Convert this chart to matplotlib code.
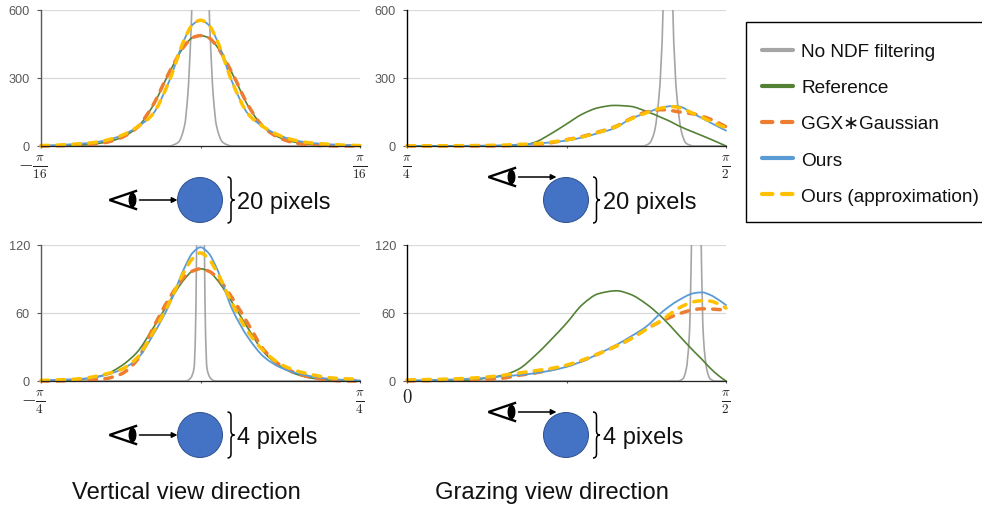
import matplotlib
matplotlib.use("Agg")
import matplotlib.pyplot as plt
import numpy as np
from matplotlib.lines import Line2D
from matplotlib.patches import Rectangle, Ellipse, PathPatch
from matplotlib.path import Path
from matplotlib.transforms import ScaledTranslation

plt.rcParams['font.family'] = ['Liberation Sans', 'DejaVu Sans']
plt.rcParams['mathtext.fontset'] = 'cm'

W, H = 982, 510
SERIES = ["No NDF filtering", "Reference", "GGX\u2217Gaussian", "Ours", "Ours (approximation)"]
COLORS = ["#A5A5A5", "#548235", "#ED7D31", "#5B9BD5", "#FFC000"]

# --- top-left: vertical view, 20 pixels
tl_x = [0, .05, .1, .15, .2, .25, .3, .35, .4, .45, .475, .5, .525, .55, .6, .65, .7, .75, .8, .85, .9, .95, 1]
tl_ref = [0, 1, 3, 7, 16, 36, 80, 175, 318, 442, 478, 487, 478, 442, 318, 175, 80, 36, 16, 7, 3, 1, 0]
tl_ggx = [0, 1, 3, 7, 15, 36, 80, 178, 320, 442, 478, 487, 478, 442, 320, 178, 80, 34, 12, 4, 1, 0, 0]
tl_ours = [2, 4, 8, 13, 24, 45, 82, 140, 280, 472, 535, 555, 535, 472, 280, 140, 82, 45, 24, 13, 8, 4, 2]
tl_appr = [2, 4, 8, 13, 24, 45, 82, 140, 280, 472, 535, 555, 535, 472, 280, 140, 82, 45, 24, 13, 8, 4, 2]
tl_sx = [0, .4, .43, .45, .46, .47, .473, .485, .5, .515, .527, .53, .54, .55, .57, .6, 1]
tl_sv = [0, 0, 16, 90, 222, 500, 620, 2000, 3500, 2000, 620, 500, 222, 90, 16, 0, 0]

# --- top-right: grazing view, 20 pixels
tr_x = [0, .1, .2, .3, .35, .4, .45, .5, .55, .6, .65, .7, .75, .8, .83, .85, .9, .95, 1]
tr_ref = [0, 0, 0, 0, 1, 16, 53, 97, 141, 169, 179, 175, 153, 124, 105, 90, 60, 31, 0]
tr_ggx = [0, 0, 0, 1, 3, 6, 14, 28, 42, 62, 84, 120, 150, 160, 156, 151, 141, 119, 85]
tr_ours = [0, 0, 1, 3, 6, 10, 16, 24, 38, 57, 78, 119, 146, 170, 176, 175, 141, 104, 68]
tr_appr = [1, 1, 2, 4, 7, 10, 17, 27, 40, 60, 82, 118, 146, 168, 174, 170, 142, 110, 80]
tr_sx = [0, .74, .76, .775, .79, .803, .81, .818, .826, .833, .846, .861, .875, .9, 1]
tr_sv = [0, 0, 12, 60, 220, 620, 1800, 3500, 1800, 620, 220, 60, 12, 0, 0]

# --- bottom-left: vertical view, 4 pixels
bl_x = [0, .05, .1, .15, .2, .25, .3, .35, .4, .45, .475, .5, .525, .55, .6, .65, .7, .75, .8, .85, .9, .95, 1]
bl_ref = [0, .3, 1, 2.3, 5.6, 13, 25, 46, 69, 90, 97, 99, 97, 90, 69, 46, 25, 13, 6, 2.5, 1, .3, 0]
bl_ggx = [0, 0, .5, 1, 2, 6, 18, 46, 72, 92, 97, 99, 97, 92, 73, 50, 27, 14, 7, 3, 1, 0, 0]
bl_ours = [.5, 1, 1.5, 2.5, 5, 10, 19, 40, 66, 100, 113, 118, 113, 100, 63, 38, 21, 12, 7, 4, 2, 1, .5]
bl_appr = [.5, 1, 1.5, 3, 6, 10, 20, 42, 68, 97, 108, 113, 108, 97, 68, 43, 26, 15, 9, 5.6, 3, 2, 1.5]
bl_sx = [0, .45, .46, .47, .48, .484, .488, .5, .512, .516, .52, .53, .54, .55, 1]
bl_sv = [0, 0, .5, 3, 12, 40, 125, 700, 125, 40, 12, 3, .5, 0, 0]

# --- bottom-right: grazing view, 4 pixels
br_x = [0, .1, .2, .25, .3, .35, .4, .45, .5, .55, .6, .657, .7, .75, .8, .85, .9, .925, .95, .98, 1]
br_ref = [0, 0, .8, 2.6, 5, 10.5, 22, 36, 51, 67.5, 77, 79.6, 76.5, 68, 56, 41, 26, 19, 11.5, 4, 0]
br_ggx = [0, .5, 1, 1.5, 2.5, 5, 7, 10, 13.5, 18, 24, 31, 37, 46, 53, 59, 63, 63.7, 63.5, 63, 62.5]
br_ours = [.5, 1, 2, 2.8, 4.2, 5.2, 6.8, 9.2, 12.5, 17.5, 24, 32, 39, 48, 61, 71, 77.5, 78.2, 76, 71, 67]
br_appr = [1, 1.5, 2.5, 3.5, 5, 7, 9, 11, 14, 18.5, 24, 31, 37, 45.5, 54, 64, 70, 70.8, 70.5, 67.5, 64.4]
br_sx = [0, .85, .865, .875, .885, .892, .907, .922, .929, .94, .95, .965, 1]
br_sv = [0, 0, 2, 10, 40, 125, 700, 125, 40, 10, 2, 0, 0]

panels = [
    dict(box=(41, 11, 319, 136), ymax=600, yt=[0, 300, 600], xl=[r'$-\frac{\pi}{16}$', r'$\frac{\pi}{16}$'], off=-8, spine='#595959',
         x=tl_x, ref=tl_ref, ggx=tl_ggx, ours=tl_ours, appr=tl_appr, sx=tl_sx, sv=tl_sv),
    dict(box=(407, 11, 319, 136), ymax=600, yt=[0, 300, 600], xl=[r'$\frac{\pi}{4}$', r'$\frac{\pi}{2}$'], off=0, spine='#000000',
         x=tr_x, ref=tr_ref, ggx=tr_ggx, ours=tr_ours, appr=tr_appr, sx=tr_sx, sv=tr_sv),
    dict(box=(41, 246, 319, 136), ymax=120, yt=[0, 60, 120], xl=[r'$-\frac{\pi}{4}$', r'$\frac{\pi}{4}$'], off=-8, spine='#595959',
         x=bl_x, ref=bl_ref, ggx=bl_ggx, ours=bl_ours, appr=bl_appr, sx=bl_sx, sv=bl_sv),
    dict(box=(407, 246, 319, 136), ymax=120, yt=[0, 60, 120], xl=['$0$', r'$\frac{\pi}{2}$'], off=0, spine='#000000',
         x=br_x, ref=br_ref, ggx=br_ggx, ours=br_ours, appr=br_appr, sx=br_sx, sv=br_sv),
]

fig = plt.figure(figsize=(W / 100, H / 100), dpi=100)
DASH = (0, (2.2, 2.4))


def smoothed(ax, xs, ys, color, lw, ls='-'):
    """Draw a smoothed line through the read points with Bezier segments, like the source's smoothed series."""
    x = np.asarray(xs, float)
    y = np.asarray(ys, float)
    h = np.diff(x)
    d = np.diff(y) / h
    m = np.zeros_like(y)
    m[0], m[-1] = d[0], d[-1]
    for i in range(1, len(x) - 1):
        if d[i - 1] * d[i] > 0:
            w1, w2 = 2 * h[i] + h[i - 1], h[i] + 2 * h[i - 1]
            m[i] = (w1 + w2) / (w1 / d[i - 1] + w2 / d[i])
    verts, codes = [(x[0], y[0])], [Path.MOVETO]
    for i in range(len(h)):
        verts += [(x[i] + h[i] / 3, y[i] + m[i] * h[i] / 3),
                  (x[i + 1] - h[i] / 3, y[i + 1] - m[i + 1] * h[i] / 3),
                  (x[i + 1], y[i + 1])]
        codes += [Path.CURVE4] * 3
    patch = PathPatch(Path(verts, codes), fc='none', ec=color, lw=lw, ls=ls, capstyle='round', joinstyle='round')
    ax.add_patch(patch)
    patch.set_clip_path(Rectangle((-0.02, -0.03), 1.04, 1.03, transform=ax.transAxes))
    return patch


for p in panels:
    l, t, w, h = p['box']
    ax = fig.add_axes([l / W, 1 - (t + h) / H, w / W, h / H])
    ax.set_xlim(0, 1)
    ax.set_ylim(0, p['ymax'])
    for s in ('top', 'right'):
        ax.spines[s].set_visible(False)
    ax.spines['left'].set_color(p['spine'])
    ax.spines['left'].set_linewidth(1.0)
    ax.spines['bottom'].set_color('#222222')
    ax.spines['bottom'].set_linewidth(0.9)
    ax.set_yticks(p['yt'])
    ax.yaxis.grid(True, color='#D9D9D9', lw=0.9)
    ax.set_axisbelow(True)
    ax.tick_params(axis='y', length=3, width=0.8, color='#595959', labelcolor='#595959', labelsize=9.2, pad=5)
    ax.set_xticks([0, .5, 1])
    ax.set_xticklabels([p['xl'][0], '', p['xl'][1]])
    ax.tick_params(axis='x', length=1.5, width=0.8, color='#555555', labelcolor='#222222', labelsize=13.5, pad=3.5)
    if p['off']:
        lab = ax.get_xticklabels()[0]
        lab.set_transform(lab.get_transform() + ScaledTranslation(p['off'] / 100, 0, fig.dpi_scale_trans))

    smoothed(ax, p['sx'], p['sv'], COLORS[0], 1.2)
    smoothed(ax, p['x'], p['ref'], COLORS[1], 1.2)
    smoothed(ax, p['x'], p['ggx'], COLORS[2], 2.5, DASH)
    smoothed(ax, p['x'], p['ours'], COLORS[3], 1.3)
    smoothed(ax, p['x'], p['appr'], COLORS[4], 2.5, DASH)

# overlay in pixel coordinates for the schematic drawings and captions
ov = fig.add_axes([0, 0, 1, 1], zorder=5)
ov.set_xlim(0, W)
ov.set_ylim(H, 0)
ov.axis('off')
ov.patch.set_alpha(0)


def eye(x, y):
    ov.plot([x + 26.5, x, x + 26.5], [y - 9, y, y + 9], color='black', lw=1.7, solid_joinstyle='miter')
    ov.add_patch(Ellipse((x + 23, y), 6.5, 13, color='black'))
    ov.annotate('', xy=(x + 68, y), xytext=(x + 30, y),
                arrowprops=dict(arrowstyle='-|>', color='black', lw=1.1, mutation_scale=8, shrinkA=0, shrinkB=0))


def brace(x, y):
    verts = [(x, y - 23), (x + 3.5, y - 23), (x + 3.5, y - 19), (x + 3.5, y - 4), (x + 3.5, y), (x + 7, y),
             (x + 3.5, y), (x + 3.5, y + 4), (x + 3.5, y + 19), (x + 3.5, y + 23), (x, y + 23)]
    codes = [Path.MOVETO, Path.CURVE3, Path.CURVE3, Path.LINETO, Path.CURVE3, Path.CURVE3,
             Path.CURVE3, Path.CURVE3, Path.LINETO, Path.CURVE3, Path.CURVE3]
    ov.add_patch(PathPatch(Path(verts, codes), fc='none', ec='black', lw=1.1))


schem = [
    (109.5, 201, 200, 201, 227.5, 237.5, '20 pixels'),
    (488.5, 178, 566, 201, 593, 603, '20 pixels'),
    (109.5, 436, 200, 436, 227.5, 237.5, '4 pixels'),
    (488.5, 413, 566, 436, 593, 603, '4 pixels'),
]
for ex, ey, cx, cy, bx, tx, txt in schem:
    eye(ex, ey)
    ov.add_patch(Ellipse((cx, cy), 45, 45, fc='#4472C4', ec='#2F528F', lw=0.7))
    brace(bx, cy)
    ov.text(tx, cy + 2, txt, fontsize=17, color='#111111', va='center', ha='left')

ov.text(186, 493, 'Vertical view direction', fontsize=17.1, color='#111111', ha='center', va='center')
ov.text(551.5, 493, 'Grazing view direction', fontsize=17.1, color='#111111', ha='center', va='center')

ov.add_patch(Rectangle((746, 23), 260, 200, fc='white', ec='black', lw=1.0))

LEG_DASH = (0, (2.5, 2.3))
handles = [
    Line2D([], [], color=COLORS[0], lw=3, solid_capstyle='round'),
    Line2D([], [], color=COLORS[1], lw=3, solid_capstyle='round'),
    Line2D([], [], color=COLORS[2], lw=3, ls=LEG_DASH, dash_capstyle='round'),
    Line2D([], [], color=COLORS[3], lw=3, solid_capstyle='round'),
    Line2D([], [], color=COLORS[4], lw=3, ls=LEG_DASH, dash_capstyle='round'),
]
leg = ov.legend(handles, SERIES, loc='upper left', bbox_to_anchor=(762 / W, 1 - 44 / H), borderaxespad=0,
                fontsize=13.7, frameon=False, handlelength=1.65, handletextpad=0.42,
                labelspacing=0.985, borderpad=0, labelcolor='#111111')

fig.savefig('out.png', dpi=100)
